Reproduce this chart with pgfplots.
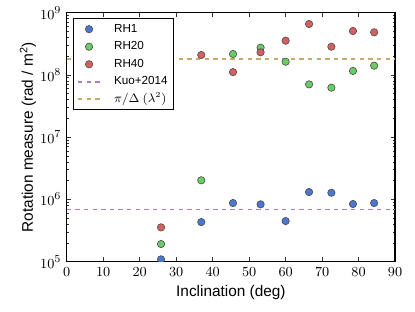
\documentclass[border=0pt]{standalone}
\usepackage[no-math]{fontspec}
\setmainfont{Liberation Sans}
\usepackage{pgfplots}
\pgfplotsset{compat=1.18}
\definecolor{cblue}{HTML}{4878CF}
\definecolor{cgreen}{HTML}{6ACC65}
\definecolor{cred}{HTML}{D65F5F}
\definecolor{cpurple}{HTML}{B47CC7}
\definecolor{cyellow}{HTML}{C4AD66}
\pgfplotsset{
  ptsstyle/.style={only marks, mark=*, mark size=2.4pt,
    mark options={fill=#1, draw=black!70, line width=0.4pt},
    legend image code/.code={\path[draw=none,fill=none] (0pt,0pt) -- (14.3pt,0pt);\draw[##1] plot coordinates {(7.15pt,0pt)};}},
  hlinestyle/.style={draw=#1, line width=1.2pt, dash pattern=on 2.8pt off 2.8pt, no marks,
    legend image code/.code={\draw[##1] (0pt,0pt) -- (14.3pt,0pt);}},
}
\begin{document}
\begin{tikzpicture}
\useasboundingbox (-43.4pt,-32.7pt) rectangle (226.35pt,170.1pt);
\begin{axis}[
  at={(0,0)}, anchor=south west,
  scale only axis, width=213.4pt, height=161.85pt,
  ymode=log, xmin=0, xmax=90, ymin=1e5, ymax=1e9,
  xtick={0,10,...,90},
  ytick={1e5,1e6,1e7,1e8,1e9},
  tick align=inside,
  major tick length=2.8pt, minor tick length=1.4pt,
  axis line style={line width=0.8pt},
  every tick/.style={black!80, line width=0.5pt},
  tick label style={font=\fontsize{9.3}{11}\selectfont},
  xlabel={Inclination (deg)},
  ylabel={Rotation measure (rad / m\textsuperscript{2})},
  label style={font=\fontsize{10}{12}\selectfont},
  every axis x label/.style={at={(axis description cs:0.5,-0.1409)}, anchor=base},
  every axis y label/.style={at={(axis description cs:-0.118,0.5)}, rotate=90, anchor=center},
  clip marker paths=true,
  legend cell align=left,
  legend style={at={(0.018,0.977)}, anchor=north west, draw=black, line width=0.6pt,
    font=\fontsize{7.6}{9}\selectfont, inner xsep=2.6pt, inner ysep=1pt, column sep=7.5pt,
    nodes={inner xsep=1pt, inner ysep=2.2pt, text height=5.4pt, text depth=1.6pt}},
]
\addplot[hlinestyle=cpurple, forget plot] coordinates {(0,6.9e5) (90,6.9e5)};
\addplot[hlinestyle=cyellow, forget plot] coordinates {(0,1.82e8) (90,1.82e8)};
\addplot[ptsstyle=cblue] coordinates {
(25.84,1.09e5) (36.87,4.33e5) (45.57,8.75e5) (53.13,8.34e5) (60.00,4.5e5)
(66.42,1.315e6) (72.54,1.28e6) (78.46,8.44e5) (84.26,8.75e5)};
\addlegendentry{RH1}
\addplot[ptsstyle=cgreen] coordinates {
(25.84,1.92e5) (36.87,2.03e6) (45.57,2.17e8) (53.13,2.74e8) (60.00,1.63e8)
(66.42,7.06e7) (72.54,6.24e7) (78.46,1.16e8) (84.26,1.41e8)};
\addlegendentry{RH20}
\addplot[ptsstyle=cred] coordinates {
(25.84,3.56e5) (36.87,2.09e8) (45.57,1.11e8) (53.13,2.31e8) (60.00,3.55e8)
(66.42,6.58e8) (72.54,2.84e8) (78.46,5.08e8) (84.26,4.84e8)};
\addlegendentry{RH40}
\addlegendimage{hlinestyle=cpurple}
\addlegendentry{Kuo+2014}
\addlegendimage{hlinestyle=cyellow}
\addlegendentry{$\pi/\Delta\ (\lambda^2)$}
\end{axis}
\end{tikzpicture}
\end{document}
